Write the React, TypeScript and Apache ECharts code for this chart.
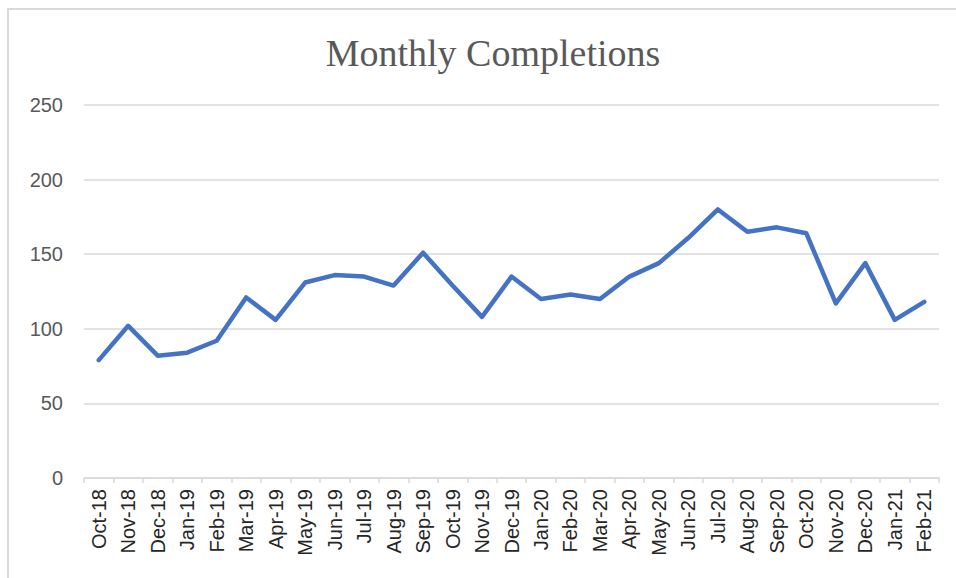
import React, { useEffect, useRef } from "react";
import * as echarts from "echarts";

const months = [
  "Oct-18", "Nov-18", "Dec-18", "Jan-19", "Feb-19", "Mar-19", "Apr-19", "May-19",
  "Jun-19", "Jul-19", "Aug-19", "Sep-19", "Oct-19", "Nov-19", "Dec-19", "Jan-20",
  "Feb-20", "Mar-20", "Apr-20", "May-20", "Jun-20", "Jul-20", "Aug-20", "Sep-20",
  "Oct-20", "Nov-20", "Dec-20", "Jan-21", "Feb-21",
];
const completions = [
  79, 102, 82, 84, 92, 121, 106, 131, 136, 135, 129, 151, 129, 108, 135, 120,
  123, 120, 135, 144, 161, 180, 165, 168, 164, 117, 144, 106, 118,
];
const title = "Monthly Completions";

export default function App() {
  const ref = useRef<HTMLDivElement>(null);
  useEffect(() => {
    if (!ref.current) return;
    const chart = echarts.init(ref.current, null, { renderer: "svg" });
    chart.setOption({
      animation: false,
      backgroundColor: "#ffffff",
      title: {
        text: title,
        left: 488,
        textAlign: "center",
        top: 29,
        textStyle: {
          fontFamily: "Liberation Serif",
          fontSize: 38,
          fontWeight: "normal",
          color: "#595959",
        },
      },
      graphic: [
        {
          type: "rect",
          shape: { x: 8, y: 9, width: 970, height: 600 },
          style: { fill: "none", stroke: "#d9d9d9", lineWidth: 2 },
          silent: true,
        },
      ],
      grid: { left: 84, right: 17, top: 105, bottom: 100, containLabel: false },
      xAxis: {
        type: "category",
        data: months,
        boundaryGap: true,
        axisLine: { lineStyle: { color: "#d9d9d9", width: 1.5 } },
        axisTick: { show: true, length: 5, lineStyle: { color: "#d9d9d9", width: 1.5 } },
        axisLabel: {
          rotate: 90,
          interval: 0,
          margin: 11,
          color: "#262626",
          fontFamily: "Liberation Sans",
          fontSize: 20,
        },
        splitLine: { show: false },
      },
      yAxis: {
        type: "value",
        min: 0,
        max: 250,
        interval: 50,
        axisLine: { show: false },
        axisTick: { show: false },
        axisLabel: {
          margin: 21,
          color: "#595959",
          fontFamily: "Liberation Sans",
          fontSize: 20,
        },
        splitLine: { lineStyle: { color: "#d9d9d9", width: 1.5 } },
      },
      series: [
        {
          type: "line",
          data: completions,
          showSymbol: false,
          symbol: "none",
          lineStyle: { color: "#4472c4", width: 4.5, cap: "round", join: "round" },
        },
      ],
    });
    return () => chart.dispose();
  }, []);
  return (
    <div
      ref={ref}
      style={{ position: "fixed", left: 0, top: 0, width: 956, height: 578 }}
    />
  );
}
